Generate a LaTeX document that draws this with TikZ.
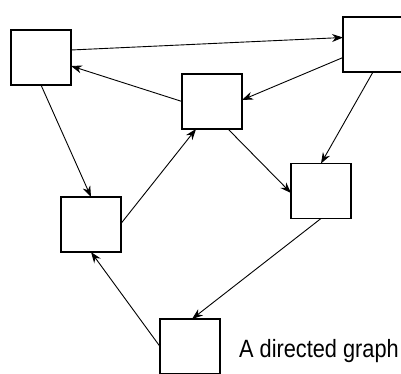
\documentclass[tikz,border=0pt]{standalone}
\usepackage{fontspec}
\setmainfont{Liberation Sans}
\usetikzlibrary{arrows.meta}
\tikzset{
  vbox/.style={draw, line width=1.5pt, minimum width=60pt, minimum height=55pt, inner sep=0pt, outer sep=0pt},
  edge/.style={line width=0.9pt, -{Stealth[length=11pt,width=8pt]}},
}
\begin{document}
\begin{tikzpicture}[x=1pt,y=-1pt]
\useasboundingbox (0,0) rectangle (401,374);
\node[vbox] (A) at (41,57.5) {};
\node[vbox] (B) at (373,44.5) {};
\node[vbox] (C) at (212,101.5) {};
\node[vbox] (D) at (91,224.5) {};
\node[vbox] (E) at (321,191) {};
\node[vbox] (F) at (190,346.5) {};
\node[anchor=base west, inner sep=0pt, font=\fontsize{25}{28}\selectfont, xscale=0.87, transform shape] (T) at (239,357) {A directed graph};
\draw[edge] ([yshift=7.5pt]A.east) -- ([yshift=7pt]B.west);
\draw[edge] (C.west) -- ([yshift=-8.5pt]A.east);
\draw[edge] ([yshift=-13pt]B.west) -- ([yshift=1.5pt]C.east);
\draw[edge] (B.south) -- (E.north);
\draw[edge] (A.south) -- (D.north);
\draw[edge] ([yshift=1pt]D.east) -- ([xshift=-16pt]C.south);
\draw[edge] ([xshift=16pt]C.south) -- ([yshift=-2pt]E.west);
\draw[edge] (E.south) -- ([xshift=2pt]F.north);
\draw[edge] (F.west) -- (D.south);
\end{tikzpicture}
\end{document}
